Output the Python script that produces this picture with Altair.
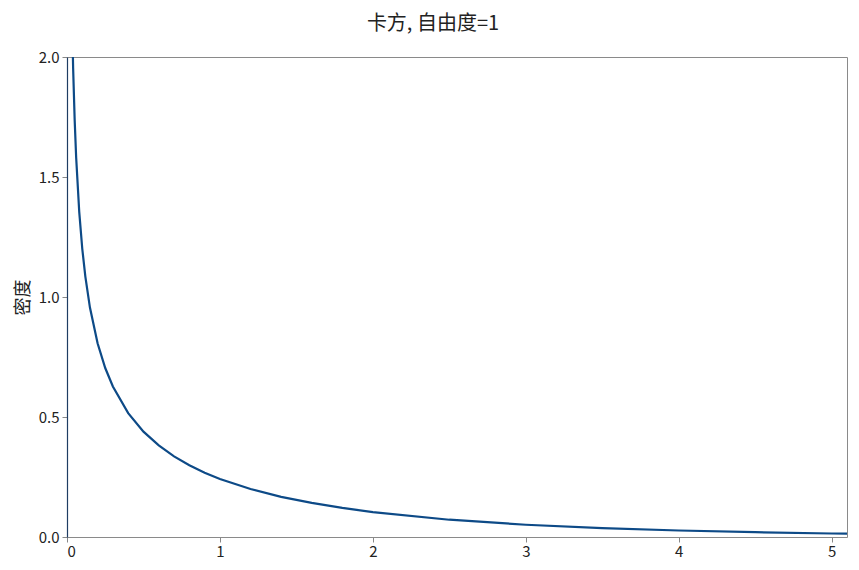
import altair as alt
import pandas as pd

# values (chi-square density, df = 1)
x_vals = [0.002, 0.005, 0.01, 0.02, 0.03, 0.04, 0.05, 0.06, 0.08, 0.10, 0.12, 0.15,
          0.20, 0.25, 0.30, 0.40, 0.50, 0.60, 0.70, 0.80, 0.90, 1.00, 1.20,
          1.40, 1.60, 1.80, 2.00, 2.50, 3.00, 3.50, 4.00, 4.50, 5.00, 5.10]
y_vals = [8.90, 5.63, 3.97, 2.79, 2.27, 1.955, 1.74, 1.58, 1.355, 1.20, 1.085, 0.956,
          0.807, 0.704, 0.627, 0.516, 0.439, 0.382, 0.336, 0.299, 0.268, 0.242, 0.200,
          0.167, 0.142, 0.121, 0.104, 0.072, 0.051, 0.037, 0.027, 0.020, 0.0146, 0.0138]
x_ticks = [0, 1, 2, 3, 4, 5]
y_ticks = [0.0, 0.5, 1.0, 1.5, 2.0]

df = pd.DataFrame({"x": x_vals, "y": y_vals})

font = "Noto Sans CJK SC"

line = alt.Chart(df).mark_line(color="#0d4a87", strokeWidth=2.2, clip=True).encode(
    x=alt.X("x:Q", scale=alt.Scale(domain=[0, 5.1], nice=False),
            axis=alt.Axis(values=x_ticks, format="d", title=None, grid=False,
                          domain=False, tickColor="#888", tickSize=5,
                          labelFontSize=15, labelColor="#222", labelFont=font,
                          labelPadding=2)),
    y=alt.Y("y:Q", scale=alt.Scale(domain=[0, 2.0], nice=False),
            axis=alt.Axis(values=y_ticks, format=".1f", title="密度", grid=False,
                          domain=True, domainColor="#1f3d63", domainWidth=1.2,
                          tickColor="#888", tickSize=5,
                          labelFontSize=15, labelColor="#222", labelFont=font,
                          labelPadding=3,
                          titleFont=font, titleFontSize=18, titleFontWeight="normal",
                          titleColor="#222", titlePadding=6)),
)

chart = line.properties(
    width=780, height=480,
    title=alt.TitleParams("卡方, 自由度=1", font=font, fontSize=20,
                          fontWeight="normal", color="#222", anchor="middle",
                          offset=16, dx=-24),
    padding={"left": 59, "top": 49, "right": 4, "bottom": 25},
    autosize=alt.AutoSizeParams(type="none"),
    background="white",
).configure_view(stroke="#8a8a8a", strokeWidth=1)

chart.save("out.html", embed_options={"renderer": "svg", "actions": False})
